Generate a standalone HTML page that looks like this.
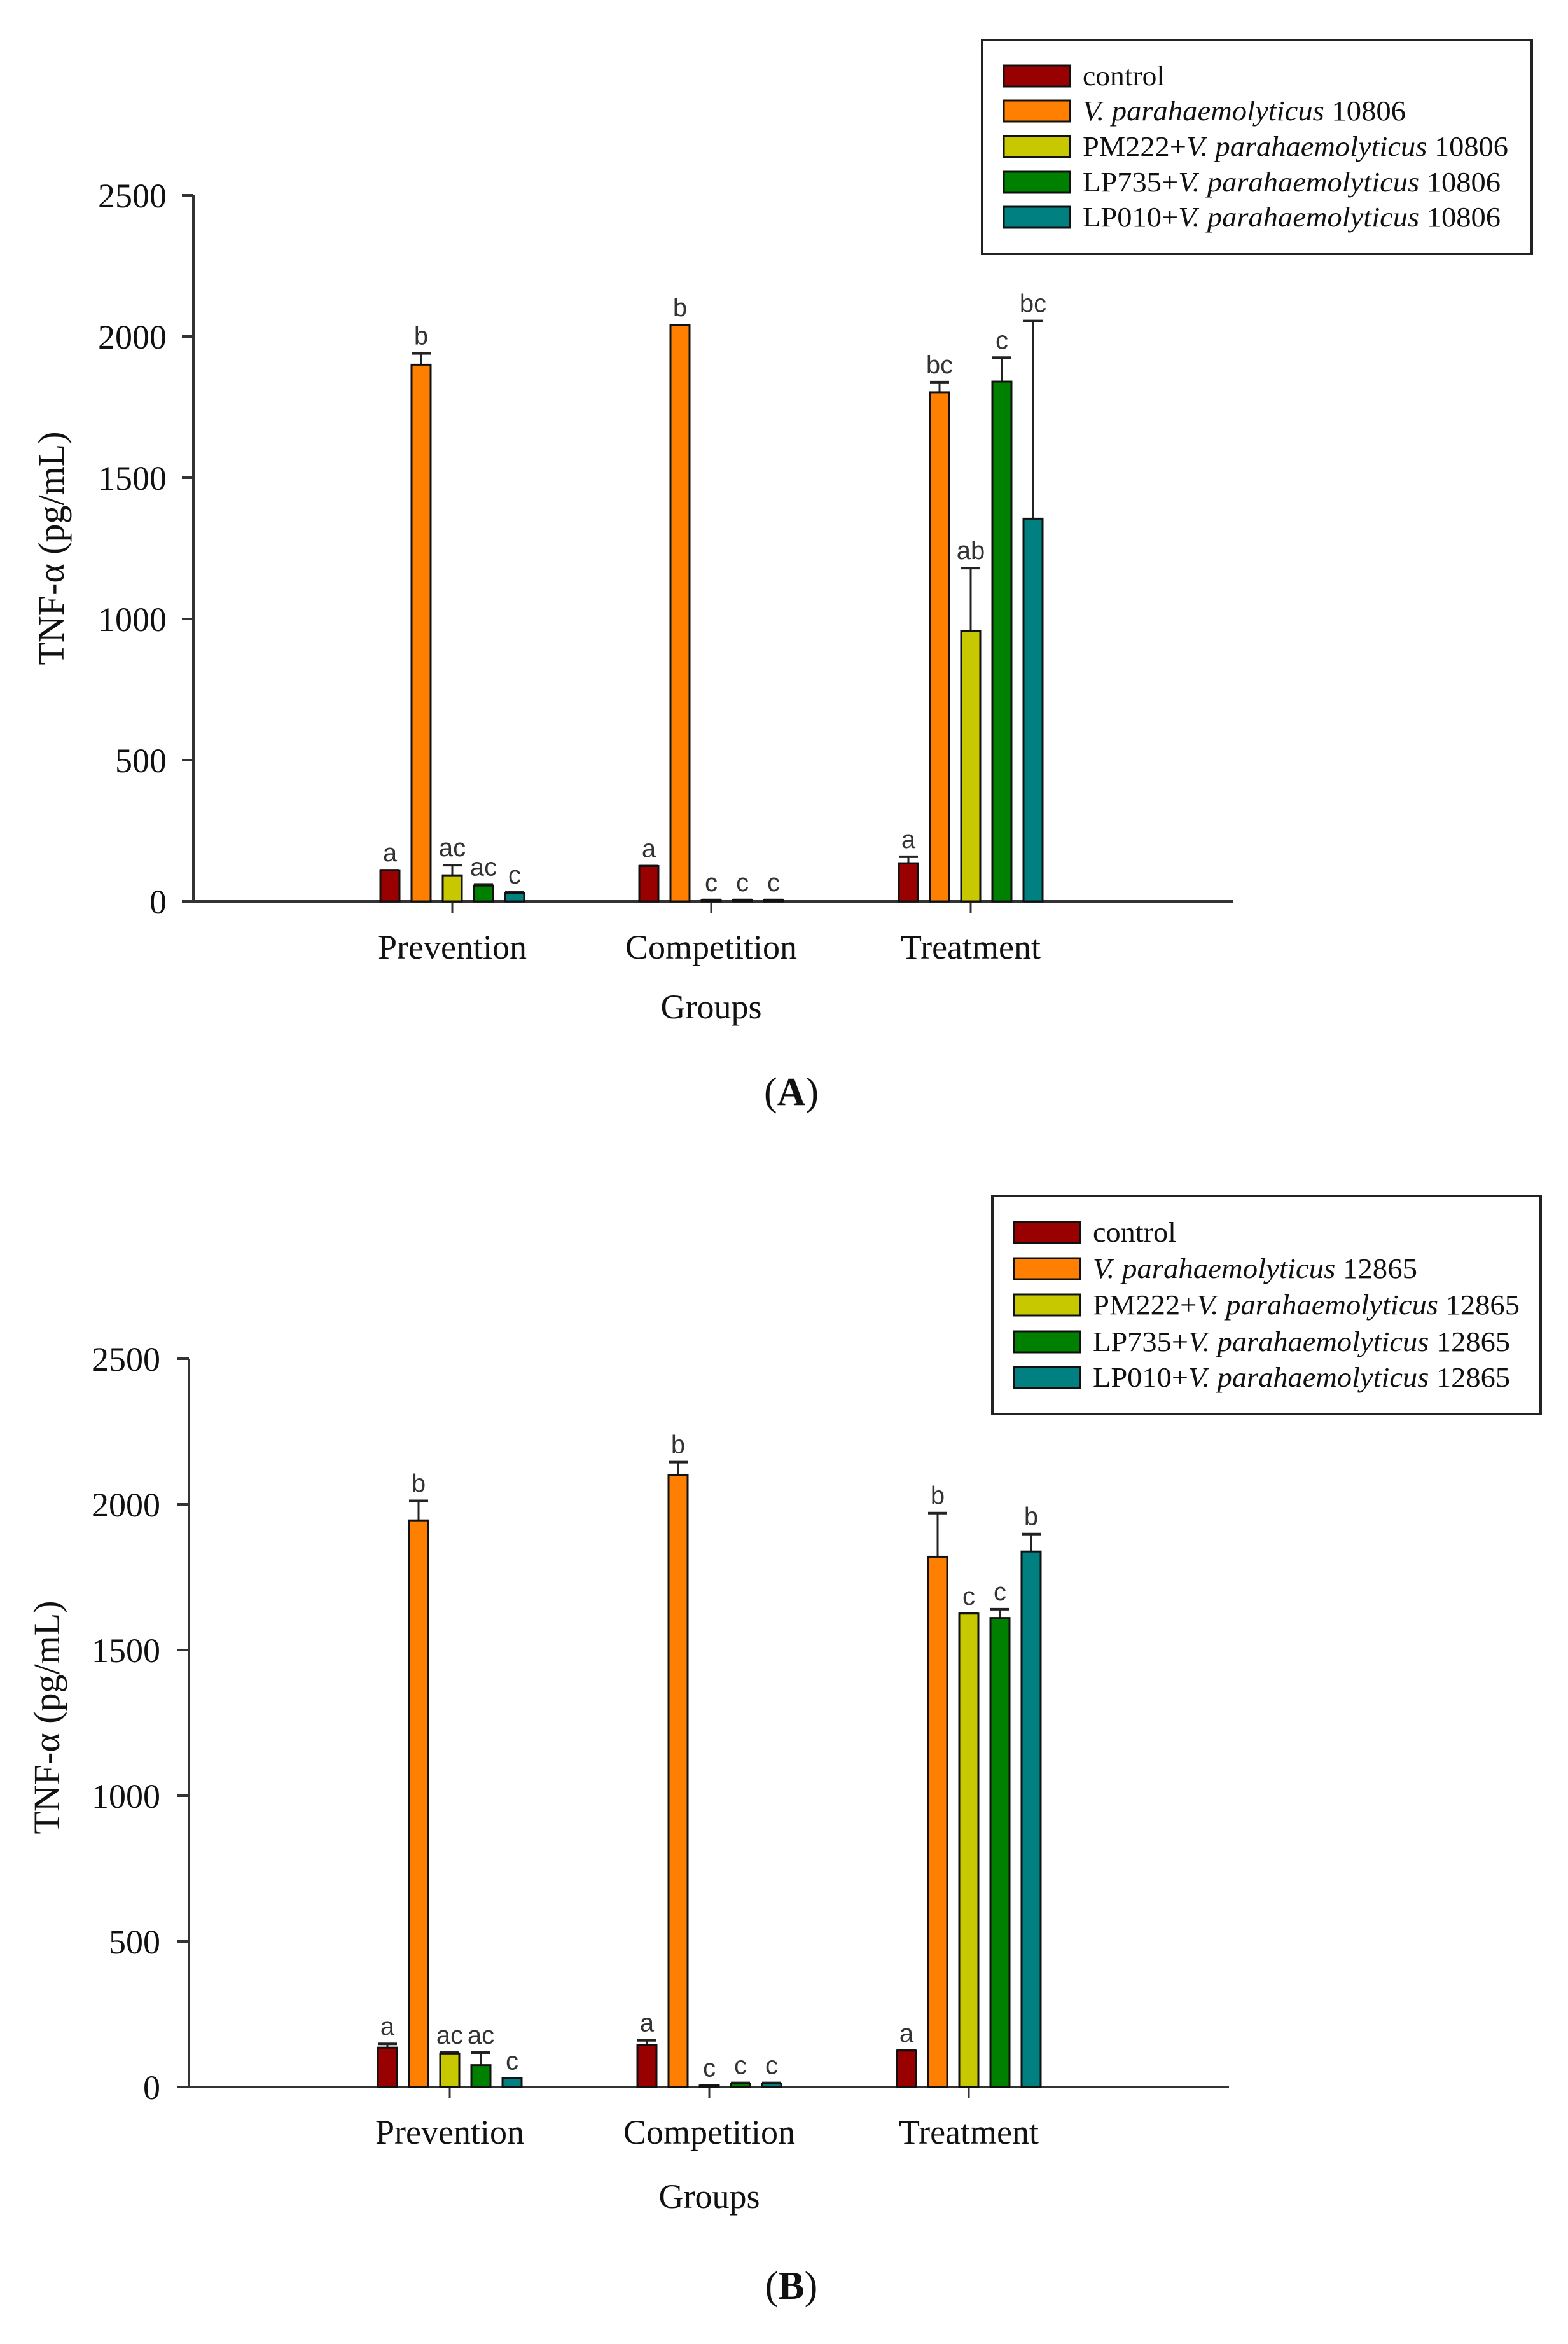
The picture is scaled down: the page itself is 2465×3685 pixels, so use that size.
<!DOCTYPE html>
<html><head><meta charset="utf-8">
<style>
html,body{margin:0;padding:0;background:#fff;}
svg{display:block;}
.tick{font-family:"Liberation Serif",serif;font-size:54px;fill:#111;}
.lab{font-family:"Liberation Sans",sans-serif;font-size:40px;fill:#333;}
.leg{font-family:"Liberation Serif",serif;font-size:44px;fill:#111;}
</style></head>
<body>
<svg id="fig" width="2465" height="3685" viewBox="0 0 2465 3685" xmlns="http://www.w3.org/2000/svg">
<rect x="0" y="0" width="2465" height="3685" fill="#fff"/>
<g id="chartA"></g>
<g id="chartB"></g>
</svg>
<script>
const groups = ["Prevention","Competition","Treatment"];
const seriesColors = ["#990000","#FF8000","#C8C800","#008000","#008080"];
const yTicks = [0,500,1000,1500,2000,2500];

// Chart A values (pg/mL): rows = series, cols = groups
const controlA = [110,125,135];
const vpA = [1900,2040,1802];
const pm222A = [92,5,958];
const lp735A = [56,5,1840];
const lp010A = [30,5,1355];
const errControlA = [110,125,158];
const errVpA = [1940,2040,1838];
const errPm222A = [128,5,1180];
const errLp735A = [60,5,1925];
const errLp010A = [32,5,2055];
const lettersA = [["a","a","a"],["b","b","bc"],["ac","c","ab"],["ac","c","c"],["c","c","bc"]];
const legendA = ["10806"];

// Chart B values
const controlB = [135,145,125];
const vpB = [1945,2100,1820];
const pm222B = [115,5,1625];
const lp735B = [75,12,1610];
const lp010B = [30,12,1838];
const errControlB = [148,160,125];
const errVpB = [2012,2145,1970];
const errPm222B = [118,5,1625];
const errLp735B = [118,14,1640];
const errLp010B = [30,14,1898];
const lettersB = [["a","a","a"],["b","b","b"],["ac","c","c"],["ac","c","c"],["c","c","b"]];
const legendB = ["12865"];

const NS="http://www.w3.org/2000/svg";
function mk(tag, attrs, parent){
  const e=document.createElementNS(NS,tag);
  for(const k in attrs) e.setAttribute(k,attrs[k]);
  parent.appendChild(e); return e;
}

function draw(g, cfg){
  const y=v=>cfg.y0-(v/2500)*(cfg.y0-cfg.yTop);
  const x=(gi,si)=>cfg.centers[gi]+(si-2)*49;
  let ax=mk('line',{x1:cfg.axX,y1:cfg.yTop,x2:cfg.axX,y2:cfg.y0,stroke:'#333','stroke-width':4},g);
  
  
  let bx=mk('line',{x1:cfg.axX-18,y1:cfg.y0,x2:cfg.axEnd,y2:cfg.y0,stroke:'#333','stroke-width':4},g);
  
  
  yTicks.forEach(t=>{
    const tl=mk('line',{x1:cfg.axX-18,y1:y(t),x2:cfg.axX,y2:y(t),stroke:'#333','stroke-width':4},g);
    
    
    const tt=mk('text',{x:cfg.tickRight,y:y(t)+19,'text-anchor':'end',class:'tick'},g);
    tt.textContent=t;
    
    
  });
  groups.forEach((gn,gi)=>{
    const tl=mk('line',{x1:cfg.centers[gi],y1:cfg.y0,x2:cfg.centers[gi],y2:cfg.y0+18,stroke:'#333','stroke-width':3},g);
    
    
    const tt=mk('text',{x:cfg.centers[gi],y:cfg.catY,'text-anchor':'middle',class:'tick'},g);
    tt.textContent=gn;
    
    
  });
  cfg.series.forEach((vals,si)=>{
    vals.forEach((v,gi)=>{
      const cx=x(gi,si), top=y(v), et=y(cfg.errs[si][gi]);
      if(et<top-1){
        const el=mk('line',{x1:cx,y1:et,x2:cx,y2:top,stroke:'#222','stroke-width':3},g);
        
        
      }
      const cap=mk('line',{x1:cx-15,y1:et,x2:cx+15,y2:et,stroke:'#222','stroke-width':4},g);
      
      
      const r=mk('rect',{x:cx-15,y:top,width:30,height:Math.max(cfg.y0-top,2),fill:seriesColors[si],stroke:'#111','stroke-width':3},g);
      
      
      const lt=mk('text',{x:cx,y:Math.min(et,top)-14,'text-anchor':'middle',class:'lab'},g);
      lt.textContent=cfg.letters[si][gi];
      
      
    });
  });
  const xt=mk('text',{x:cfg.centers[1],y:cfg.xTitleY,'text-anchor':'middle',class:'tick'},g);
  xt.textContent='Groups';
  
  
  const yt=mk('text',{x:0,y:0,'text-anchor':'middle',class:'tick',style:'font-size:58px',transform:`translate(${cfg.yTitleX},${cfg.yTitleY}) rotate(-90)`},g);
  yt.textContent='TNF-α (pg/mL)';
  
  
  const pl=mk('text',{x:1244,y:cfg.panelY,'text-anchor':'middle',class:'tick',style:'font-size:62px'},g);
  pl.innerHTML='(<tspan font-weight="bold">'+cfg.panel+'</tspan>)';
  
  
  const L=cfg.leg;
  const lb=mk('rect',{x:L.x,y:L.y,width:L.w,height:L.h,fill:'#fff',stroke:'#222','stroke-width':4},g);
  
  
  const strain=cfg.strain;
  const prefixes=['','','PM222+','LP735+','LP010+'];
  L.rows.forEach((ry,i)=>{
    const sw=mk('rect',{x:L.sx,y:ry-17,width:104,height:33,fill:seriesColors[i],stroke:'#111','stroke-width':3},g);
    
    
    const t=mk('text',{x:L.tx,y:ry+14,class:'leg',textLength:L.widths[i],lengthAdjust:'spacingAndGlyphs'},g);
    if(i===0) t.textContent='control';
    else t.innerHTML=prefixes[i]+'<tspan font-style="italic">V. parahaemolyticus</tspan> '+strain;
    
    
  });
}

draw(document.getElementById('chartA'),{
  y0:1417,yTop:307,axX:304,axEnd:1938,tickRight:262,centers:[711,1118,1526],
  catY:1507,xTitleY:1601,yTitleX:100,yTitleY:862,panelY:1737,panel:'A',strain:legendA[0],
  series:[controlA,vpA,pm222A,lp735A,lp010A],
  errs:[errControlA,errVpA,errPm222A,errLp735A,errLp010A],letters:lettersA,
  leg:{x:1544,y:63,w:864,h:336,sx:1578,tx:1702,rows:[120,175,231,287,342],widths:[129,508,669,657,657]}
});
draw(document.getElementById('chartB'),{
  y0:3281,yTop:2136,axX:297,axEnd:1932,tickRight:252,centers:[707,1115,1523],
  catY:3370,xTitleY:3471,yTitleX:93,yTitleY:2700,panelY:3614,panel:'B',strain:legendB[0],
  series:[controlB,vpB,pm222B,lp735B,lp010B],
  errs:[errControlB,errVpB,errPm222B,errLp735B,errLp010B],letters:lettersB,
  leg:{x:1560,y:1880,w:862,h:343,sx:1594,tx:1718,rows:[1938,1995,2052,2110,2166],widths:[131,510,671,656,656]}
});
</script>
</body></html>
